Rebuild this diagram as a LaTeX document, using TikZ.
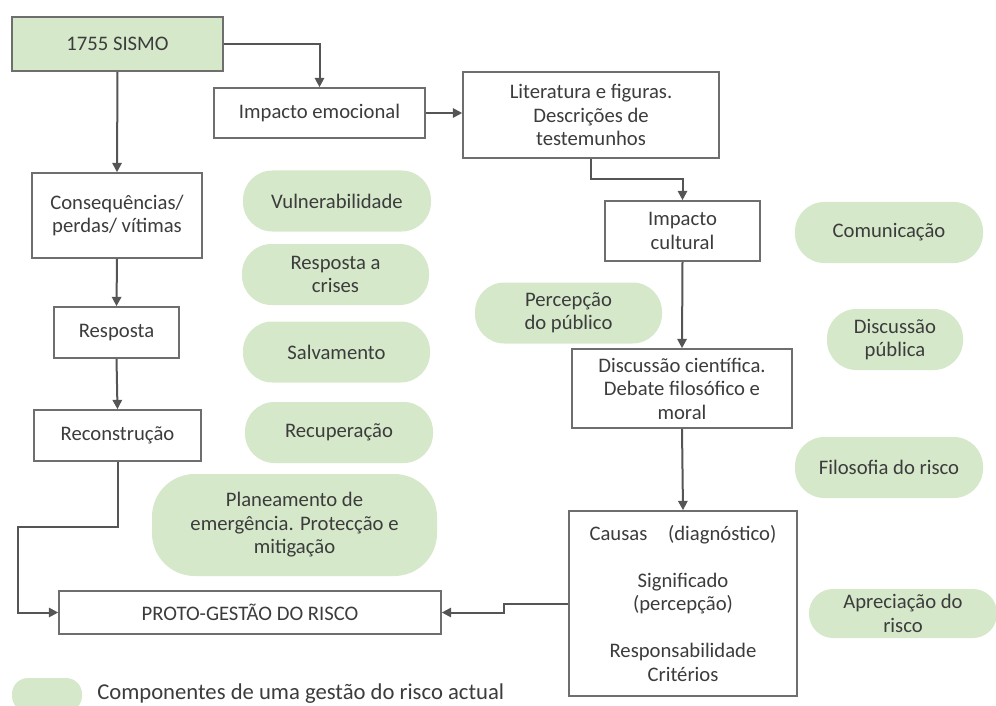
\documentclass[tikz,border=0pt]{standalone}
\usepackage{fontspec}
\setmainfont{Carlito}
\usepackage{xcolor}
\definecolor{rkgreen}{RGB}{213,232,202}
\definecolor{rkline}{RGB}{85,85,85}
\definecolor{rkedge}{RGB}{110,110,110}
\definecolor{rktext}{RGB}{60,60,60}
\usetikzlibrary{arrows.meta,positioning,calc}

\begin{document}
\begin{tikzpicture}[x=0.75pt,y=-0.75pt,
  stage/.style={draw=rkedge,line width=1.2pt,fill=white,inner sep=0pt,align=center,text=rktext,font=\fontsize{15.5}{17.6}\selectfont},
  event/.style={stage,fill=rkgreen},
  comp/.style={fill=rkgreen,rounded corners=22pt,inner sep=0pt,align=center,text=rktext,font=\fontsize{15.5}{17.6}\selectfont,minimum height=45.75pt},
  flow/.style={-{Triangle[length=7pt,width=7pt]},rkline,line width=1.5pt}]
  \useasboundingbox (0,0) rectangle (996,706);
  % Left branch
  \node[event,minimum width=158.25pt,minimum height=40.5pt] (sismo) at (117.5,44) {1755 SISMO};
  \node[stage,minimum width=127.5pt,minimum height=63.75pt] (cons) at (117,215.5) {Consequências/\\perdas/ vítimas};
  \node[stage,minimum width=93.75pt,minimum height=38.25pt] (resp) at (116.5,332.5) {Resposta};
  \node[stage,minimum width=125.25pt,minimum height=38.25pt] (recon) at (117.5,435.5) {Reconstrução};
  \node[stage,minimum width=286.5pt,minimum height=32.25pt] (proto) at (250,612.5) {PROTO-GESTÃO DO RISCO};
  % Right branch
  \node[stage,minimum width=158.25pt,minimum height=37.5pt] (emoc) at (319.5,113) {Impacto emocional};
  \node[stage,minimum width=192pt,minimum height=64.5pt] (lit) at (591,115) {Literatura e figuras.\\Descrições de\\testemunhos};
  \node[stage,minimum width=116.25pt,minimum height=45pt] (cult) at (682.5,231) {Impacto\\cultural};
  \node[stage,minimum width=165pt,minimum height=59.25pt] (disc) at (682,388.5) {Discussão científica.\\Debate filosófico e\\moral};
  \node[stage,minimum width=171pt,minimum height=138.75pt] (causas) at (683,603.5) {Causas\quad(diagnóstico)\\[17.6pt]Significado\\(percepção)\\[17.6pt]Responsabilidade\\Critérios};
  % Components (green)
  \node[comp,minimum width=141pt] (vuln) at (337,201) {Vulnerabilidade};
  \node[comp,minimum width=140.25pt] (crises) at (335.5,274.5) {Resposta a\\crises};
  \node[comp,minimum width=140.25pt] (salv) at (336.5,352) {Salvamento};
  \node[comp,minimum width=141pt] (recup) at (339,432.5) {Recuperação};
  \node[comp,minimum width=213.75pt,minimum height=76.5pt,rounded corners=32pt] (plan) at (294.5,525) {Planeamento de\\emergência. Protecção e\\mitigação};
  \node[comp,minimum width=140.25pt] (perc) at (568.5,313) {Percepção\\do público};
  \node[comp,minimum width=141pt] (comun) at (889,232.5) {Comunicação};
  \node[comp,minimum width=102pt] (dpub) at (895,339.5) {Discussão\\pública};
  \node[comp,minimum width=141pt] (filo) at (889,467.5) {Filosofia do risco};
  \node[comp,minimum width=141pt,minimum height=36.75pt,rounded corners=18pt] (apre) at (903,613.5) {Apreciação do\\risco};
  % Legend
  \node[comp,minimum width=52.5pt,minimum height=25.5pt,rounded corners=12pt] (leg) at (47,695) {};
  \node[anchor=base west,inner sep=0pt,text=rktext,font=\fontsize{17}{20}\selectfont] (legtxt) at (97,699) {Componentes de uma gestão do risco actual};
  % Arrows
  \draw[flow] (sismo.east) -| (emoc.north);
  \draw[flow] (emoc.east) -- (emoc.east -| lit.west);
  \draw[flow] (lit.south) -- ++(0,20) -| (cult.north);
  \foreach \a/\b in {sismo/cons,cons/resp,resp/recon,cult/disc,disc/causas}
    \draw[flow] (\a.south) -- (\b.north);
  \draw[flow] (recon.south) -- ++(0,65) -- ++(-100,0) |- (proto.west);
  \draw[flow] (causas.west) -- ++(-64,0) |- (proto.east);
\end{tikzpicture}
\end{document}
